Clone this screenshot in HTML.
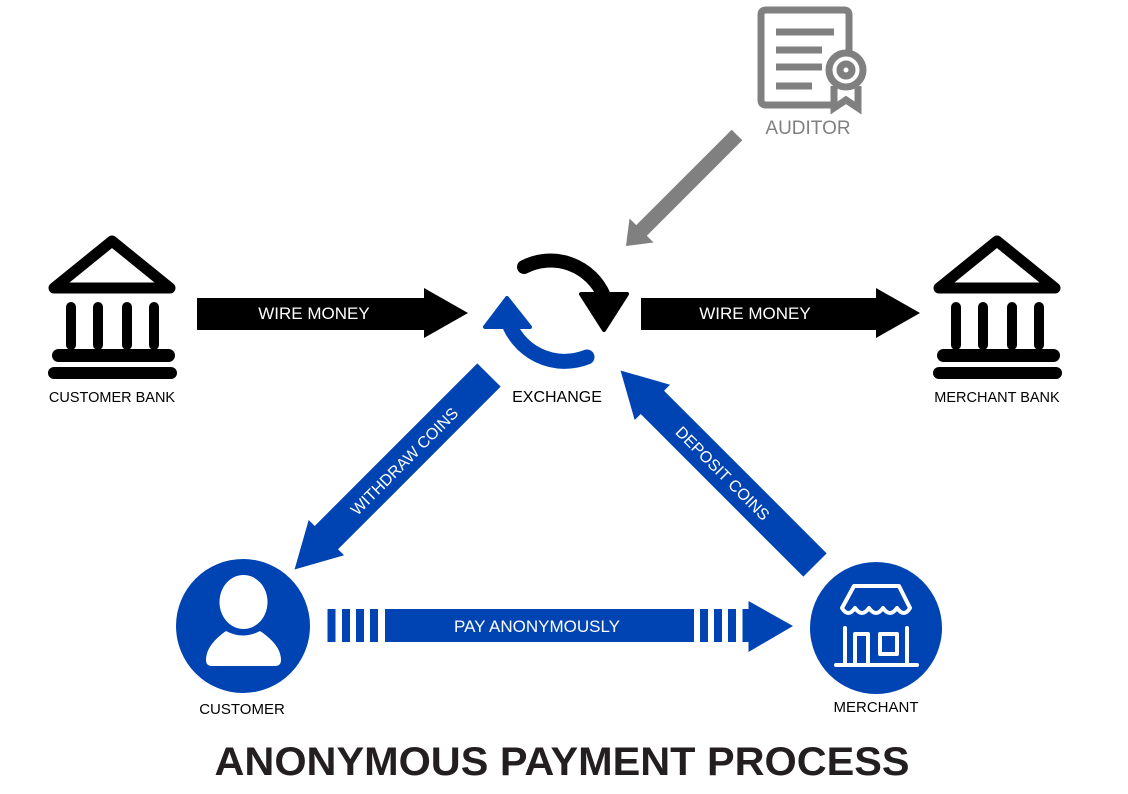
<!DOCTYPE html>
<html><head><meta charset="utf-8"><style>
html,body{margin:0;padding:0;background:#fff;}
svg{display:block;}
text{font-family:"Liberation Sans",Arial,sans-serif;}
</style></head><body>
<svg width="1128" height="794" viewBox="0 0 1128 794" xmlns="http://www.w3.org/2000/svg">
<!-- Auditor -->
<g fill="none" stroke="#808080" stroke-width="7" stroke-linecap="round">
  <path d="M835,105 L766,105 Q761,105 761,100 L761,15 Q761,10 766,10 L844,10 Q849,10 849,15 L849,50"/>
  <line x1="776" y1="32" x2="834" y2="32" stroke-linecap="butt"/>
  <line x1="776" y1="50" x2="822" y2="50" stroke-linecap="butt"/>
  <line x1="776" y1="67" x2="822" y2="67" stroke-linecap="butt"/>
  <line x1="776" y1="86" x2="812" y2="86" stroke-linecap="butt"/>
  <circle cx="846" cy="70" r="17"/>
  <circle cx="846" cy="70" r="6"/>
  <path d="M834,86 L834,108 L846,100 L858,108 L858,86" stroke-linecap="butt" stroke-linejoin="miter"/>
</g>
<text x="808" y="134" font-size="19" fill="#808080" text-anchor="middle">AUDITOR</text>
<!-- gray arrow -->
<g transform="translate(737,135) rotate(135)">
  <polygon points="0,-7.5 135,-7.5 135,-17 157,0 135,17 135,7.5 0,7.5" fill="#808080"/>
</g>
<!-- Banks -->
<g id="bank" fill="#000">
  <path d="M112,241 L54,288 L170,288 Z" fill="none" stroke="#000" stroke-width="11" stroke-linejoin="round"/>
  <rect x="66" y="302" width="10" height="48" rx="5"/>
  <rect x="93" y="302" width="10" height="48" rx="5"/>
  <rect x="122" y="302" width="10" height="48" rx="5"/>
  <rect x="149" y="302" width="10" height="48" rx="5"/>
  <rect x="52" y="349" width="123" height="13" rx="6.5"/>
  <rect x="48" y="367" width="129" height="12" rx="6"/>
</g>
<use href="#bank" transform="translate(885,0)"/>
<text x="112" y="402" font-size="14.5" text-anchor="middle" fill="#000">CUSTOMER BANK</text>
<text x="997" y="402" font-size="14.5" text-anchor="middle" fill="#000">MERCHANT BANK</text>
<!-- wire money arrows -->
<polygon points="197,298 424,298 424,288 468,313 424,338 424,330 197,330" fill="#000"/>
<text x="314" y="319" font-size="17" fill="#fff" text-anchor="middle">WIRE MONEY</text>
<polygon points="641,298 876,298 876,288 920,313 876,338 876,330 641,330" fill="#000"/>
<text x="755" y="319" font-size="17" fill="#fff" text-anchor="middle">WIRE MONEY</text>
<!-- exchange -->
<path d="M524,267 A58,58 0 0 1 604,296" fill="none" stroke="#000" stroke-width="14" stroke-linecap="round"/>
<polygon points="581,294 627,294 604,330" fill="#000" stroke="#000" stroke-width="4" stroke-linejoin="round"/>
<path d="M507,318 A60,60 0 0 0 587,357" fill="none" stroke="#0044b4" stroke-width="15" stroke-linecap="round"/>
<polygon points="507,298 485,327 530,327" fill="#0044b4" stroke="#0044b4" stroke-width="4" stroke-linejoin="round"/>
<text x="557" y="402" font-size="16" text-anchor="middle" fill="#000">EXCHANGE</text>
<!-- withdraw -->
<g transform="translate(489,375) rotate(135)">
  <polygon points="0,-16.5 230,-16.5 230,-25 275,0 230,25 230,16.5 0,16.5" fill="#0044b4"/>
</g>
<text transform="translate(404,461) rotate(-45)" font-size="16" fill="#fff" text-anchor="middle" dy="6">WITHDRAW COINS</text>
<!-- deposit -->
<g transform="translate(815,565) rotate(-135)">
  <polygon points="0,-16.5 230,-16.5 230,-25 275,0 230,25 230,16.5 0,16.5" fill="#0044b4"/>
</g>
<text transform="translate(723,473) rotate(45)" font-size="16" fill="#fff" text-anchor="middle" dy="6">DEPOSIT COINS</text>
<!-- pay -->
<g fill="#0044b4">
  <rect x="327.5" y="609" width="8" height="33"/>
  <rect x="342" y="609" width="8" height="33"/>
  <rect x="356" y="609" width="8" height="33"/>
  <rect x="370" y="609" width="8" height="33"/>
  <rect x="385" y="609" width="309" height="33"/>
  <rect x="700" y="609" width="8" height="33"/>
  <rect x="714" y="609" width="8" height="33"/>
  <rect x="728" y="609" width="8" height="33"/>
  <rect x="742.5" y="609" width="7" height="33"/>
  <polygon points="748.5,601 793,626 748.5,652"/>
</g>
<text x="537" y="632" font-size="17" fill="#fff" text-anchor="middle">PAY ANONYMOUSLY</text>
<!-- customer -->
<circle cx="243" cy="626" r="67" fill="#0044b4"/>
<ellipse cx="243.5" cy="602" rx="24" ry="27" fill="#fff"/>
<path d="M226,631 Q243,640 260,631 Q281,645 281,660 Q281,666 275,666 L212,666 Q206,666 206,660 Q206,645 226,631 Z" fill="#fff"/>
<text x="242" y="714" font-size="15" text-anchor="middle" fill="#000">CUSTOMER</text>
<!-- merchant -->
<circle cx="876" cy="628" r="66" fill="#0044b4"/>
<g fill="none" stroke="#fff" stroke-width="4" stroke-linecap="round" stroke-linejoin="round">
  <path d="M854,586 L899,586 L910,608 Q904,618 897,608 Q890,618 883,608 Q876,618 869,608 Q862,618 855,608 Q848,618 842,608 Z"/>
  <line x1="845" y1="628" x2="845" y2="663"/>
  <line x1="907" y1="628" x2="907" y2="663"/>
  <line x1="836" y1="665" x2="917" y2="665"/>
  <path d="M855,663 L855,634 L868,634 L868,663"/>
  <rect x="880" y="634" width="17" height="20"/>
</g>
<text x="876" y="712" font-size="15" text-anchor="middle" fill="#000">MERCHANT</text>
<!-- title -->
<text x="562" y="775" font-size="40" font-weight="bold" fill="#231f20" text-anchor="middle" textLength="695" lengthAdjust="spacingAndGlyphs">ANONYMOUS PAYMENT PROCESS</text>
</svg>
</body></html>
